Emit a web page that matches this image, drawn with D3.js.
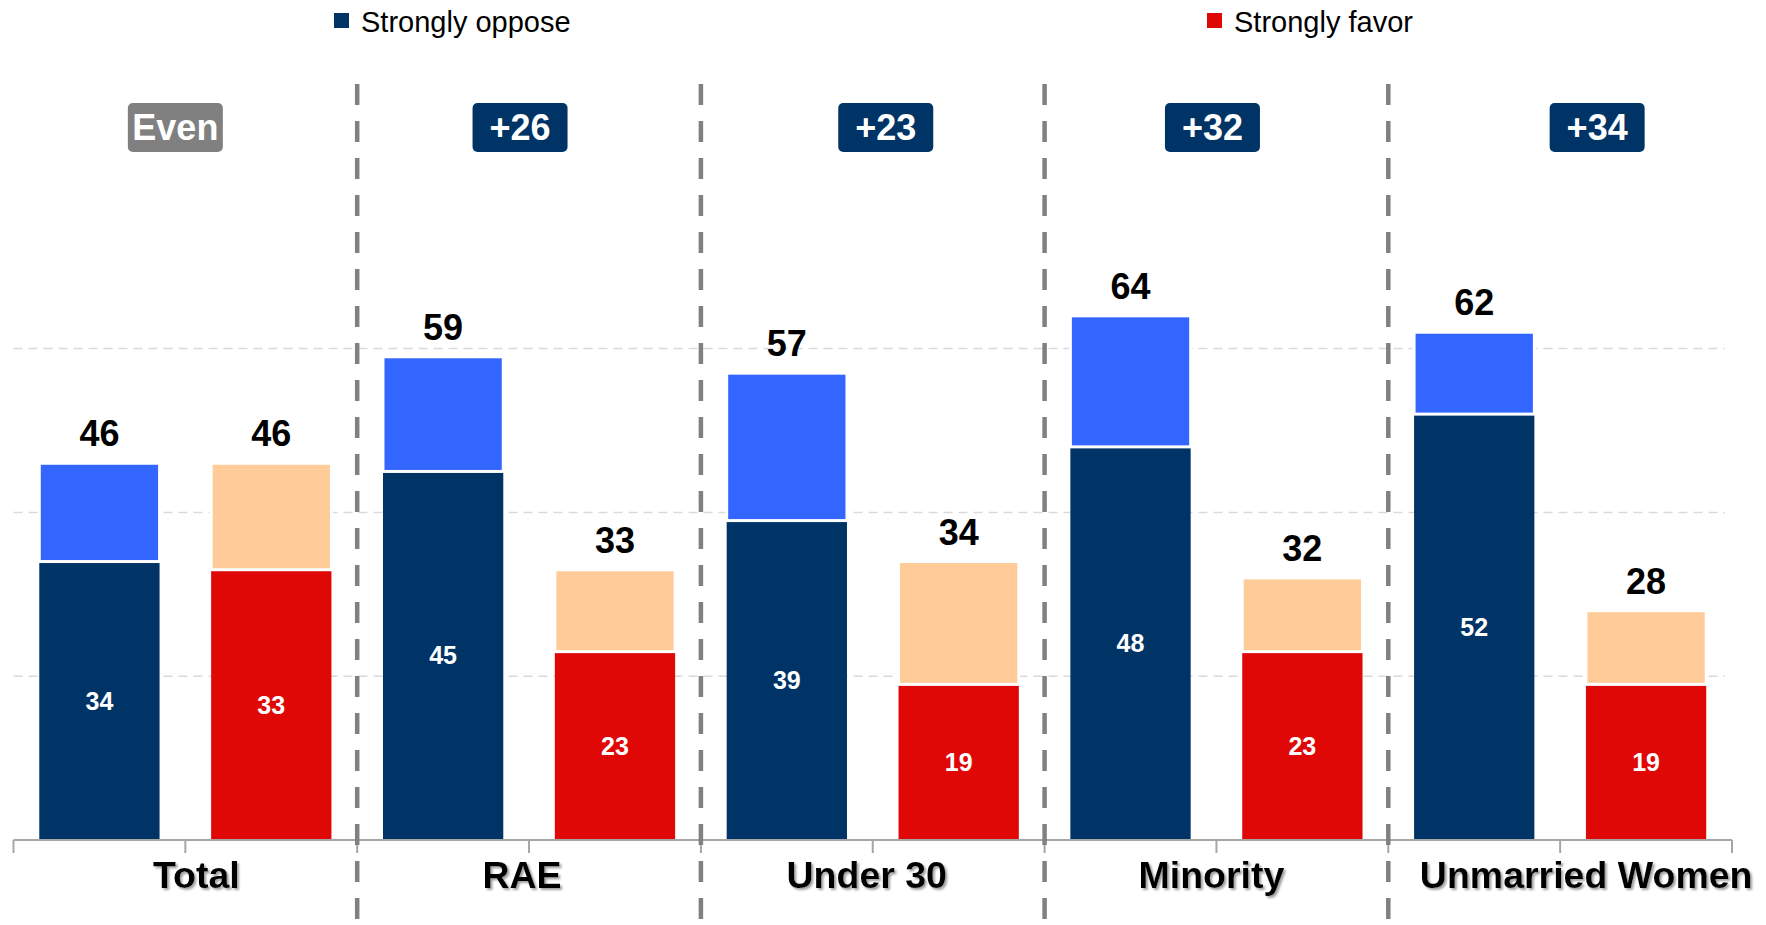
<!DOCTYPE html>
<html>
<head>
<meta charset="utf-8">
<script src="https://cdn.jsdelivr.net/npm/d3@7"></script>
<style>
  html, body { margin: 0; padding: 0; background: #fff; }
  svg { display: block; font-family: "Liberation Sans", Arial, sans-serif; }
</style>
</head>
<body>
<svg id="chart" width="1766" height="925"></svg>
<script>
const categories = ["Total", "RAE", "Under 30", "Minority", "Unmarried Women"];
const badges = ["Even", "+26", "+23", "+32", "+34"];
const opposeStrong = [34, 45, 39, 48, 52];
const opposeTotal = [46, 59, 57, 64, 62];
const favorStrong = [33, 23, 19, 23, 19];
const favorTotal = [46, 33, 34, 32, 28];
const gridTicks = [20, 40, 60];
const legendLabels = ["Strongly oppose", "Strongly favor"];

// layout nudges (annotation placement, px)
const labelNudge = [11, -7, -6, -5, 26];
const badgeNudge = [-10, -9, 13, -4, 37];

const C = {
  navy: "#003366", blue: "#3366FF", red: "#E00806", peach: "#FFCC99",
  badgeNavy: "#003366", badgeGray: "#808080"
};

const svg = d3.select("#chart");
const W = 1766, H = 925;
const baseY = 840;

const defs = svg.append("defs");
const f = defs.append("filter").attr("id", "shadow").attr("x", "-10%").attr("y", "-20%").attr("width", "130%").attr("height", "150%");
f.append("feDropShadow").attr("dx", 2).attr("dy", 2).attr("stdDeviation", 1).attr("flood-color", "#888").attr("flood-opacity", 0.8);

const rows = [];
categories.forEach((c, i) => {
  rows.push({ key: c + "|o", cat: i, side: "o", strong: opposeStrong[i], total: opposeTotal[i] });
  rows.push({ key: c + "|f", cat: i, side: "f", strong: favorStrong[i], total: favorTotal[i] });
});

const x = d3.scaleBand().domain(rows.map(d => d.key)).range([13.5, 1732]).paddingInner(0.3).paddingOuter(0.15);
const y = d3.scaleLinear().domain([0, 80]).range([baseY, baseY - 655.2]);
const step = x.step();
const boundary = i => x(rows[i].key) - step * 0.15;
const catCenter = i => boundary(i * 2) + step;

// gridlines
svg.append("g").selectAll("line").data(gridTicks).join("line")
  .attr("x1", 13.5).attr("x2", 1725)
  .attr("y1", d => y(d)).attr("y2", d => y(d))
  .attr("stroke", "#d9d9d9").attr("stroke-width", 1.5).attr("stroke-dasharray", "9,6");

// bars
const g = svg.append("g");
g.selectAll("rect.strong").data(rows).join("rect").attr("class", "strong")
  .attr("x", d => x(d.key)).attr("width", x.bandwidth())
  .attr("y", d => y(d.strong)).attr("height", d => y(0) - y(d.strong))
  .attr("fill", d => d.side === "o" ? C.navy : C.red);
g.selectAll("rect.light").data(rows).join("rect").attr("class", "light")
  .attr("x", d => x(d.key)).attr("width", x.bandwidth())
  .attr("y", d => y(d.total)).attr("height", d => y(d.strong) - y(d.total))
  .attr("fill", d => d.side === "o" ? C.blue : C.peach)
  .attr("stroke", "#fff").attr("stroke-width", 3);

// axis line and ticks
svg.append("line").attr("x1", 13.5).attr("x2", 1732).attr("y1", baseY).attr("y2", baseY)
  .attr("stroke", "#a6a6a6").attr("stroke-width", 2);
svg.append("g").selectAll("line").data(d3.range(rows.length + 1)).join("line")
  .attr("x1", i => 13.5 + i * step).attr("x2", i => 13.5 + i * step)
  .attr("y1", baseY).attr("y2", baseY + 13)
  .attr("stroke", "#a6a6a6").attr("stroke-width", 2);

// dividers
svg.append("g").selectAll("line").data(d3.range(1, categories.length)).join("line")
  .attr("x1", i => boundary(i * 2)).attr("x2", i => boundary(i * 2))
  .attr("y1", 84).attr("y2", H)
  .attr("stroke", "#808080").attr("stroke-width", 4.5).attr("stroke-dasharray", "21,16");

// top value labels
svg.append("g").selectAll("text").data(rows).join("text")
  .attr("x", d => x(d.key) + x.bandwidth() / 2).attr("y", d => y(d.total) - 17)
  .attr("text-anchor", "middle").attr("font-weight", "bold").attr("font-size", 36).attr("fill", "#000")
  .text(d => d.total);

// inner labels
svg.append("g").selectAll("text").data(rows).join("text")
  .attr("x", d => x(d.key) + x.bandwidth() / 2).attr("y", d => (y(d.strong) + y(0)) / 2)
  .attr("dy", "0.35em")
  .attr("text-anchor", "middle").attr("font-weight", "bold").attr("font-size", 25).attr("fill", "#fff")
  .text(d => d.strong);

// category labels
svg.append("g").selectAll("text").data(categories).join("text")
  .attr("x", (d, i) => catCenter(i) + labelNudge[i]).attr("y", 888)
  .attr("text-anchor", "middle").attr("font-weight", "bold").attr("font-size", 37.5).attr("fill", "#000")
  .attr("filter", "url(#shadow)")
  .text(d => d);

// badges
const bg = svg.append("g").selectAll("g").data(badges).join("g")
  .attr("transform", (d, i) => `translate(${catCenter(i) + badgeNudge[i]},0)`);
bg.append("rect").attr("x", -47.5).attr("y", 103).attr("width", 95).attr("height", 49).attr("rx", 5)
  .attr("fill", (d, i) => i === 0 ? C.badgeGray : C.badgeNavy);
bg.append("text").attr("x", 0).attr("y", 140).attr("text-anchor", "middle")
  .attr("font-weight", "bold").attr("font-size", 36).attr("fill", "#fff").text(d => d);

// legend
const legendX = [334, 1207];
const legendColors = [C.navy, C.red];
const lg = svg.append("g").selectAll("g").data(legendLabels).join("g")
  .attr("transform", (d, i) => `translate(${legendX[i]},0)`);
lg.append("rect").attr("x", 0).attr("y", 13).attr("width", 15).attr("height", 15)
  .attr("fill", (d, i) => legendColors[i]);
lg.append("text").attr("x", 27).attr("y", 32).attr("font-size", 29).attr("fill", "#000").text(d => d);
</script>
</body>
</html>
